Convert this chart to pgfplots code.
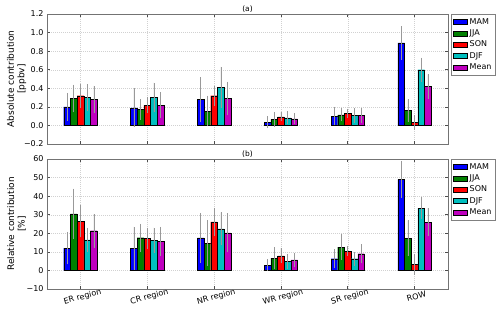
\documentclass[border=0pt]{standalone}
\usepackage{pgfplots}
\pgfplotsset{compat=1.18}
\usepackage{pgfplotstable}
\usepackage{fontspec}
\setmainfont{DejaVu Sans}
\definecolor{cMAM}{rgb}{0,0,1}
\definecolor{cJJA}{rgb}{0,0.5,0}
\definecolor{cSON}{rgb}{1,0,0}
\definecolor{cDJF}{rgb}{0,0.75,0.75}
\definecolor{cMean}{rgb}{0.75,0,0.75}

% (a) absolute contribution
\pgfplotstableread{
x y e
0 0.20 0.15
1 0.19 0.21
2 0.28 0.24
3 0.035 0.065
4 0.10 0.10
5 0.89 0.18
}\aMAM
\pgfplotstableread{
x y e
0 0.29 0.15
1 0.17 0.11
2 0.155 0.165
3 0.064 0.076
4 0.114 0.07
5 0.16 0.12
}\aJJA
\pgfplotstableread{
x y e
0 0.32 0.13
1 0.22 0.09
2 0.32 0.11
3 0.093 0.05
4 0.13 0.05
5 0.03 0.08
}\aSON
\pgfplotstableread{
x y e
0 0.30 0.145
1 0.30 0.16
2 0.41 0.22
3 0.082 0.07
4 0.11 0.08
5 0.60 0.13
}\aDJF
\pgfplotstableread{
x y e
0 0.28 0.145
1 0.22 0.14
2 0.29 0.18
3 0.071 0.06
4 0.11 0.08
5 0.42 0.13
}\aMean

% (b) relative contribution
\pgfplotstableread{
x y e
0 12.0 8.7
1 12.0 11.5
2 17.5 13.5
3 2.9 3.2
4 6.3 5.2
5 49.0 10.0
}\bMAM
\pgfplotstableread{
x y e
0 30.5 13.5
1 17.6 7.5
2 14.7 12.3
3 6.6 5.9
4 12.6 6.9
5 17.4 9.6
}\bJJA
\pgfplotstableread{
x y e
0 26.4 8.6
1 17.3 5.7
2 26.2 7.6
3 7.9 4.1
4 10.4 2.6
5 3.4 5.6
}\bSON
\pgfplotstableread{
x y e
0 16.5 6.5
1 16.3 6.7
2 22.4 8.9
3 4.8 4.2
4 6.3 3.7
5 33.6 5.9
}\bDJF
\pgfplotstableread{
x y e
0 21.4 9.1
1 15.7 7.8
2 20.2 10.5
3 5.7 3.8
4 9.0 5.0
5 25.9 7.6
}\bMean

\pgfplotsset{
  mybars/.style={
    scale only axis, width=401pt, height=130pt,
    xmin=-0.5, xmax=5.5,
    ybar, bar width=0.1,
    xtick={0,1,2,3,4,5},
    grid=major,
    major grid style={black!18, line width=0.4pt, dash pattern=on 1pt off 1pt},
    axis line style={black!55, line width=0.8pt},
    tick style={black!70, line width=0.5pt},
    tick align=inside,
    major tick length=3pt,
    ticklabel style={font=\fontsize{8}{9.6}\selectfont},
    every axis title/.style={at={(0.5,1)}, anchor=south, font=\fontsize{7.5}{9}\selectfont, inner sep=1pt, yshift=0pt},
    legend style={at={(1.008,1)}, anchor=north west, draw=black!50, font=\fontsize{8}{9.6}\selectfont,
       row sep=0pt, inner sep=2pt, cells={anchor=west}},
    legend image code/.code={\draw[#1, draw=black, line width=0.3pt] (0pt,-2.5pt) rectangle (14pt,2.5pt);},
    ylabel style={at={(axis description cs:-0.076,0.5)}, anchor=center, align=center, font=\fontsize{9}{10.5}\selectfont},
    error bars/error bar style={black!40, line width=0.5pt},
    error bars/error mark=none,
  },
  sbar/.style={fill=#1, draw=black, line width=0.3pt},
}

\begin{document}
\begin{tikzpicture}[x=1pt,y=1pt]
\path[use as bounding box] (0,0) rectangle (500,311);

\begin{axis}[mybars, at={(47pt,167pt)}, anchor=south west,
  ymin=-0.2, ymax=1.2,
  ytick={-0.2,0,0.2,0.4,0.6,0.8,1.0,1.2},
  yticklabels={−0.2,0.0,0.2,0.4,0.6,0.8,1.0,1.2},
  xticklabels={},
  title={(a)},
  ylabel={Absolute contribution\\{[ppbv]}},
]
\addplot[sbar=cMAM, bar shift=-0.2, error bars/.cd, y dir=both, y explicit] table[x=x,y=y,y error=e]{\aMAM};
\addplot[sbar=cJJA, bar shift=-0.1, error bars/.cd, y dir=both, y explicit] table[x=x,y=y,y error=e]{\aJJA};
\addplot[sbar=cSON, bar shift=0, error bars/.cd, y dir=both, y explicit] table[x=x,y=y,y error=e]{\aSON};
\addplot[sbar=cDJF, bar shift=0.1, error bars/.cd, y dir=both, y explicit] table[x=x,y=y,y error=e]{\aDJF};
\addplot[sbar=cMean, bar shift=0.2, error bars/.cd, y dir=both, y explicit] table[x=x,y=y,y error=e]{\aMean};
\legend{MAM,JJA,SON,DJF,Mean}
\end{axis}

\begin{axis}[mybars, at={(47pt,22pt)}, anchor=south west,
  ymin=-10, ymax=60,
  ytick={-10,0,10,20,30,40,50,60},
  yticklabels={−10,0,10,20,30,40,50,60},
  xticklabels={ER region,CR region,NR region,WR region,SR region,ROW},
  xticklabel style={rotate=15, anchor=north, yshift=-1pt, font=\fontsize{8}{9.6}\selectfont},
  title={(b)},
  ylabel={Relative contribution\\{[\%]}},
]
\addplot[sbar=cMAM, bar shift=-0.2, error bars/.cd, y dir=both, y explicit] table[x=x,y=y,y error=e]{\bMAM};
\addplot[sbar=cJJA, bar shift=-0.1, error bars/.cd, y dir=both, y explicit] table[x=x,y=y,y error=e]{\bJJA};
\addplot[sbar=cSON, bar shift=0, error bars/.cd, y dir=both, y explicit] table[x=x,y=y,y error=e]{\bSON};
\addplot[sbar=cDJF, bar shift=0.1, error bars/.cd, y dir=both, y explicit] table[x=x,y=y,y error=e]{\bDJF};
\addplot[sbar=cMean, bar shift=0.2, error bars/.cd, y dir=both, y explicit] table[x=x,y=y,y error=e]{\bMean};
\legend{MAM,JJA,SON,DJF,Mean}
\end{axis}
\end{tikzpicture}
\end{document}
